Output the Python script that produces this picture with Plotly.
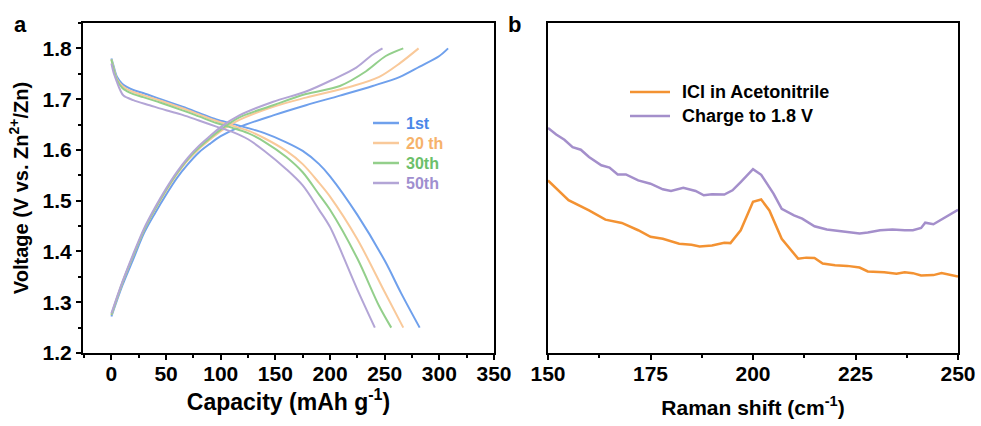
import plotly.graph_objects as go

# ---------------- Panel a data: capacity (mAh g-1) vs voltage (V) ----------------
cycle_names = ["1st", "20 th", "30th", "50th"]
line_colors = ["#6fa0ec", "#f9c99a", "#93cf8b", "#b3a5d6"]
text_colors = ["#4a86e8", "#f6b26b", "#6cbf6a", "#9f8fcf"]

charge_x_1st = [0, 10, 20, 30, 40, 50, 60, 70, 80, 90, 100, 117, 148, 178, 209, 239, 264, 282, 300, 308]
charge_y_1st = [1.272, 1.333, 1.385, 1.437, 1.476, 1.512, 1.545, 1.572, 1.595, 1.612, 1.627, 1.645, 1.668, 1.688, 1.707, 1.726, 1.744, 1.764, 1.785, 1.80]
charge_x_20 = [0, 10, 20, 30, 40, 50, 60, 70, 80, 90, 100, 117, 148, 178, 221, 245, 264, 281]
charge_y_20 = [1.275, 1.338, 1.392, 1.443, 1.483, 1.519, 1.552, 1.580, 1.602, 1.620, 1.637, 1.659, 1.685, 1.703, 1.726, 1.744, 1.771, 1.80]
charge_x_30 = [0, 10, 20, 30, 40, 50, 60, 70, 80, 90, 100, 117, 148, 178, 209, 233, 251, 267]
charge_y_30 = [1.275, 1.338, 1.392, 1.443, 1.484, 1.521, 1.554, 1.582, 1.604, 1.623, 1.640, 1.664, 1.688, 1.710, 1.726, 1.755, 1.785, 1.80]
charge_x_50 = [0, 10, 20, 30, 40, 50, 60, 70, 80, 90, 100, 117, 148, 178, 203, 224, 239, 248]
charge_y_50 = [1.278, 1.340, 1.395, 1.446, 1.487, 1.524, 1.557, 1.585, 1.608, 1.627, 1.645, 1.668, 1.695, 1.715, 1.739, 1.762, 1.788, 1.80]

dis_x_1st = [0, 2, 5, 10, 14, 20, 29, 45, 65, 80, 96, 110, 125, 140, 160, 175, 190, 200, 225, 250, 265, 282]
dis_y_1st = [1.780, 1.765, 1.744, 1.730, 1.724, 1.718, 1.712, 1.700, 1.685, 1.673, 1.660, 1.652, 1.643, 1.633, 1.615, 1.598, 1.572, 1.548, 1.472, 1.382, 1.318, 1.25]
dis_x_20 = [0, 2, 5, 10, 14, 20, 29, 45, 65, 80, 96, 110, 125, 140, 160, 175, 190, 200, 225, 250, 267]
dis_y_20 = [1.778, 1.762, 1.740, 1.726, 1.720, 1.714, 1.708, 1.697, 1.682, 1.670, 1.657, 1.648, 1.638, 1.623, 1.598, 1.572, 1.535, 1.508, 1.424, 1.320, 1.25]
dis_x_30 = [0, 2, 5, 10, 14, 20, 29, 45, 65, 80, 96, 110, 125, 140, 160, 175, 190, 200, 225, 245, 256]
dis_y_30 = [1.778, 1.760, 1.738, 1.722, 1.716, 1.710, 1.704, 1.693, 1.678, 1.666, 1.653, 1.644, 1.633, 1.616, 1.586, 1.556, 1.512, 1.482, 1.386, 1.292, 1.25]
dis_x_50 = [0, 2, 5, 8, 11, 20, 35, 50, 65, 80, 96, 110, 125, 140, 160, 175, 190, 200, 225, 241]
dis_y_50 = [1.770, 1.752, 1.734, 1.718, 1.707, 1.698, 1.688, 1.678, 1.669, 1.658, 1.646, 1.636, 1.621, 1.598, 1.562, 1.530, 1.482, 1.448, 1.325, 1.25]

charge_x = [charge_x_1st, charge_x_20, charge_x_30, charge_x_50]
charge_y = [charge_y_1st, charge_y_20, charge_y_30, charge_y_50]
dis_x = [dis_x_1st, dis_x_20, dis_x_30, dis_x_50]
dis_y = [dis_y_1st, dis_y_20, dis_y_30, dis_y_50]

# ---------------- Panel b data: Raman shift (cm-1) vs intensity (a.u.) ----------------
raman_names = ["ICl in Acetonitrile", "Charge to 1.8 V"]
raman_colors = ["#f39232", "#a48fcb"]

icl_x = [150, 155, 160, 164, 168, 172, 175, 178, 182, 185, 187, 190, 193, 194.5, 197, 200, 202, 204, 207, 211,
         213, 215, 217, 220, 223, 226, 228, 232, 235, 237, 239, 241, 244, 246, 250]
icl_y = [52.3, 46.3, 43.2, 40.4, 39.4, 37.2, 35.2, 34.6, 33.1, 32.8, 32.3, 32.6, 33.4, 33.3, 37.2, 45.8, 46.5, 43.2, 34.6, 28.6,
         28.9, 28.8, 27.1, 26.6, 26.4, 25.9, 24.7, 24.5, 24.0, 24.5, 24.2, 23.5, 23.6, 24.2, 23.2]
chg_x = [150, 152, 154, 156, 158, 160, 163, 165, 167, 169, 172, 175, 178, 180, 183, 186, 188, 190, 193, 195, 197,
         200, 202, 205, 207, 210, 212, 215, 218, 220, 223, 226, 228, 231, 234, 237, 239, 241, 242, 244, 246, 250]
chg_y = [68.2, 66.2, 64.6, 62.4, 61.6, 59.4, 56.9, 56.2, 54.1, 54.1, 52.3, 51.3, 49.6, 49.1, 50.1, 49.1, 47.8, 48.1, 48.0, 49.3, 51.8,
         55.7, 54.0, 48.3, 43.7, 41.7, 40.7, 38.4, 37.4, 37.2, 36.7, 36.2, 36.5, 37.2, 37.4, 37.2, 37.2, 37.9, 39.5, 39.0, 40.5, 43.4]

FONT = "Liberation Sans, Arial, sans-serif"
W, H = 981, 426

fig = go.Figure()

for i in range(4):
    fig.add_trace(go.Scatter(
        x=charge_x[i], y=charge_y[i], mode="lines",
        line=dict(color=line_colors[i], width=2, shape="spline", smoothing=0.9),
        name=cycle_names[i], xaxis="x", yaxis="y", showlegend=False))
    fig.add_trace(go.Scatter(
        x=dis_x[i], y=dis_y[i], mode="lines",
        line=dict(color=line_colors[i], width=2, shape="spline", smoothing=0.9),
        name=cycle_names[i], xaxis="x", yaxis="y", showlegend=False))

fig.add_trace(go.Scatter(x=icl_x, y=icl_y, mode="lines", line=dict(color=raman_colors[0], width=2.5),
                         name=raman_names[0], xaxis="x2", yaxis="y2", showlegend=False))
fig.add_trace(go.Scatter(x=chg_x, y=chg_y, mode="lines", line=dict(color=raman_colors[1], width=2.5),
                         name=raman_names[1], xaxis="x2", yaxis="y2", showlegend=False))

# ---------------- legends (swatch + label) ----------------
shapes = []
annotations = []
legA_rows = [123, 143, 163, 183]
for i in range(4):
    yy = 1 - legA_rows[i] / H
    shapes.append(dict(type="line", xref="paper", yref="paper", x0=373 / W, x1=399 / W, y0=yy, y1=yy,
                       line=dict(color=line_colors[i], width=2.5)))
    annotations.append(dict(text=cycle_names[i], x=404 / W, y=yy, xref="paper", yref="paper", showarrow=False,
                            xanchor="left", yanchor="middle",
                            font=dict(family=FONT, size=16, color=text_colors[i], weight="bold")))
legB_rows = [92, 116]
for i in range(2):
    yy = 1 - legB_rows[i] / H
    shapes.append(dict(type="line", xref="paper", yref="paper", x0=630 / W, x1=670 / W, y0=yy, y1=yy,
                       line=dict(color=raman_colors[i], width=2.5)))
    annotations.append(dict(text=raman_names[i], x=680 / W, y=yy, xref="paper", yref="paper", showarrow=False,
                            xanchor="left", yanchor="middle",
                            font=dict(family=FONT, size=18, color="black", weight="bold")))

annotations += [
    dict(text="a", x=20 / W, y=1 - 24 / H, xref="paper", yref="paper", showarrow=False,
         font=dict(family=FONT, size=22, color="black", weight="bold"), xanchor="center", yanchor="middle"),
    dict(text="b", x=514 / W, y=1 - 24 / H, xref="paper", yref="paper", showarrow=False,
         font=dict(family=FONT, size=22, color="black", weight="bold"), xanchor="center", yanchor="middle"),
]

ydom = [1 - 353 / H, 1 - 23 / H]
common_axis = dict(showline=True, mirror=True, linecolor="black", linewidth=2, showgrid=False, zeroline=False,
                   ticks="outside", ticklen=5, tickwidth=1.5, tickcolor="black", automargin=False,
                   tickfont=dict(family=FONT, size=21, color="black", weight="bold"))

fig.update_layout(
    width=W, height=H, margin=dict(l=0, r=0, t=0, b=0),
    paper_bgcolor="white", plot_bgcolor="white", template="none",
    font=dict(family=FONT, color="black"),
    showlegend=False,
    xaxis=dict(domain=[83 / W, 494 / W], range=[-26, 350], tickmode="linear", tick0=0, dtick=50,
               ticklabelstandoff=-4,
               minor=dict(ticks="outside", dtick=25, tick0=0, ticklen=3, tickcolor="black", showgrid=False),
               title=dict(text="Capacity (mAh g<sup>-1</sup>)", standoff=0,
                          font=dict(family=FONT, size=23, color="black", weight="bold")),
               anchor="y", **common_axis),
    yaxis=dict(domain=ydom, range=[1.2, 1.85], tickmode="linear", tick0=1.2, dtick=0.1, tickformat=".1f",
               minor=dict(ticks="outside", dtick=0.05, tick0=1.2, ticklen=3, tickcolor="black", showgrid=False),
               title=dict(text="Voltage (V vs. Zn<sup>2+</sup>/Zn)", standoff=9,
                          font=dict(family=FONT, size=20, color="black", weight="bold")),
               anchor="x", **common_axis),
    xaxis2=dict(domain=[548 / W, 958 / W], range=[150, 250], tickmode="linear", tick0=150, dtick=25,
                ticklabelstandoff=-4,
                minor=dict(ticks="outside", dtick=12.5, tick0=150, ticklen=3, tickcolor="black", showgrid=False),
                title=dict(text="Raman shift (cm<sup>-1</sup>)", standoff=16,
                           font=dict(family=FONT, size=21, color="black", weight="bold")),
                anchor="y2", **common_axis),
    yaxis2=dict(domain=ydom, range=[0, 100], showline=True, mirror=True, linecolor="black", linewidth=2,
                showgrid=False, zeroline=False, showticklabels=False, ticks="", anchor="x2", automargin=False),
    shapes=shapes,
    annotations=annotations,
)

fig.write_html("out.html")
